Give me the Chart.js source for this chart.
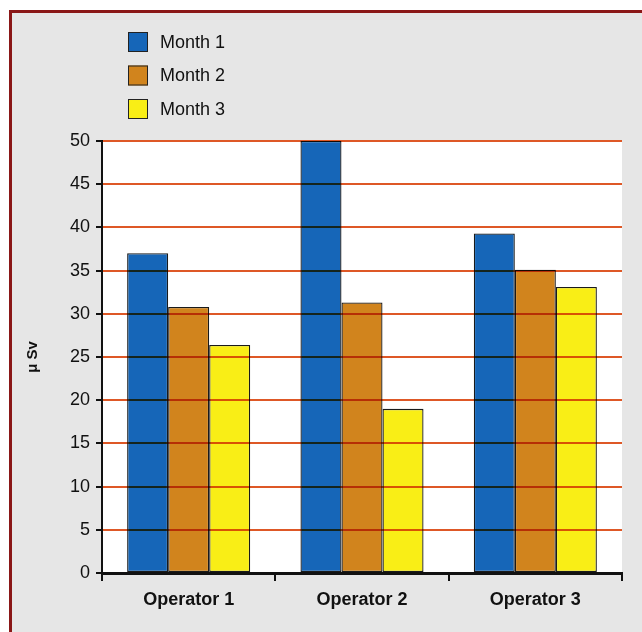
<!DOCTYPE html>
<html><head><meta charset="utf-8">
<script src="https://cdn.jsdelivr.net/npm/chart.js@4/dist/chart.umd.min.js"></script>
<style>
html,body{margin:0;padding:0;background:#fff;width:642px;height:632px;overflow:hidden}
#frame{position:absolute;left:9px;top:10px;width:700px;height:700px;border:3px solid #8a1717;background:#e6e6e6}
#wrap{position:absolute;left:0;top:0;width:642px;height:632px}
</style></head><body>
<div id="frame"></div>
<div id="wrap"><canvas id="c" width="642" height="632"></canvas></div>
<script>
const categories = ['Operator 1', 'Operator 2', 'Operator 3'];
const seriesLabels = ['Month 1', 'Month 2', 'Month 3'];
const month1 = [37.0, 50.0, 39.3];
const month2 = [30.8, 31.3, 35.1];
const month3 = [26.4, 19.0, 33.1];
const yMin = 0, yMax = 50, yStep = 5;
const yTitle = 'μ Sv';
const colors = ['#1666b8', '#d1841d', '#f9ee16'];
const FONT = '"Liberation Sans", Arial, sans-serif';

const bgPlugin = {
  id: 'plotbg',
  beforeDraw(chart) {
    const a = chart.chartArea, ctx = chart.ctx;
    ctx.save(); ctx.fillStyle = '#ffffff';
    ctx.fillRect(a.left, a.top, a.right - a.left, a.bottom - a.top);
    ctx.restore();
  }
};
// y gridlines drawn over the bars (multiplied), at the y scale's own ticks
const gridOverPlugin = {
  id: 'gridover',
  afterDatasetsDraw(chart) {
    const a = chart.chartArea, ctx = chart.ctx, ys = chart.scales.y;
    ctx.save();
    ctx.globalCompositeOperation = 'multiply';
    ctx.strokeStyle = 'rgb(222,88,38)';
    ctx.lineWidth = 2;
    ys.ticks.forEach(t => {
      if (t.value === yMin) return;
      const py = Math.round(ys.getPixelForValue(t.value));
      ctx.beginPath(); ctx.moveTo(a.left, py); ctx.lineTo(a.right, py); ctx.stroke();
    });
    ctx.globalCompositeOperation = 'source-over';
    ctx.strokeStyle = '#111'; ctx.lineWidth = 2;
    ctx.beginPath(); ctx.moveTo(a.left, a.top); ctx.lineTo(a.left, a.bottom + 1);
    ctx.lineTo(a.right, a.bottom + 1); ctx.stroke();
    ctx.restore();
  }
};
const legendPlugin = {
  id: 'vlegend',
  afterDraw(chart) {
    const ctx = chart.ctx;
    ctx.save();
    chart.data.datasets.forEach((ds, i) => {
      const x = 128, y = 32 + i * 33.5;
      ctx.fillStyle = ds.backgroundColor;
      ctx.fillRect(x, y, 20, 20);
      ctx.strokeStyle = '#222'; ctx.lineWidth = 1;
      ctx.strokeRect(x + 0.5, y + 0.5, 19, 19);
      ctx.fillStyle = '#111';
      ctx.font = '18px ' + FONT;
      ctx.textBaseline = 'middle'; ctx.textAlign = 'left';
      ctx.fillText(ds.label, 160, y + 11);
    });
    ctx.restore();
  }
};

const data = {
  labels: categories,
  datasets: [month1, month2, month3].map((v, i) => ({
    label: seriesLabels[i], data: v, backgroundColor: colors[i],
    borderColor: '#1a1a1a', borderWidth: 1.3, borderSkipped: false,
    categoryPercentage: 0.71, barPercentage: 1.0
  }))
};

new Chart(document.getElementById('c'), {
  type: 'bar',
  data,
  options: {
    responsive: false, animation: false,
    layout: { padding: { top: 141, right: 20, left: 0, bottom: 0 } },
    plugins: { legend: { display: false }, tooltip: { enabled: false } },
    scales: {
      x: {
        afterFit(s) { s.height = 59; },
        grid: { offset: true, drawOnChartArea: false, color: '#111', tickColor: '#111', tickLength: 8, lineWidth: 2 },
        border: { color: '#111', width: 2 },
        ticks: { color: '#111', padding: 8, font: { family: FONT, size: 18, weight: 'bold' } }
      },
      y: {
        min: yMin, max: yMax,
        afterFit(s) { s.width = 102; },
        grid: { drawOnChartArea: false, color: '#111', tickColor: '#111', tickLength: 6, lineWidth: 2 },
        border: { color: '#111', width: 2 },
        ticks: { stepSize: yStep, color: '#111', padding: 6, font: { family: FONT, size: 18 } },
        title: { display: true, text: yTitle, color: '#111', padding: { top: 24, bottom: 0 }, font: { family: FONT, size: 15, weight: 'bold' } }
      }
    }
  },
  plugins: [bgPlugin, gridOverPlugin, legendPlugin]
});
</script>
</body></html>
